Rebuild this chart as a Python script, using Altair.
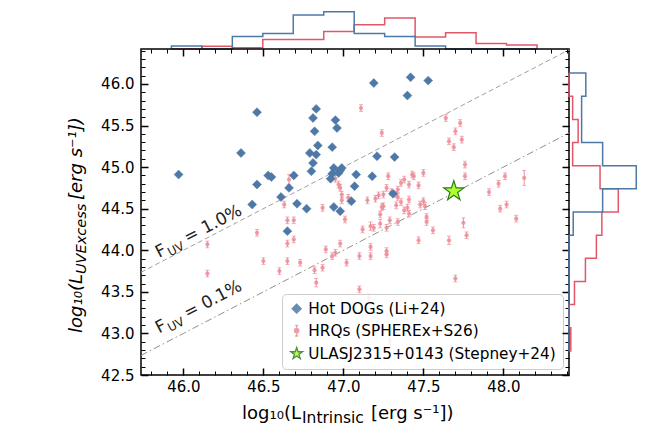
import altair as alt
import numpy as np
import pandas as pd

# ---------------- data ----------------
hd_x = [45.97, 46.46, 46.36, 46.53, 46.55, 46.46, 46.43, 46.61, 46.69, 46.66,
        46.71, 46.65, 46.77, 46.79, 46.83, 46.81, 46.82, 46.84, 46.83, 46.81,
        46.93, 46.95, 46.96, 46.94, 46.99, 46.93, 46.98, 46.94, 46.98, 47.08,
        47.07, 47.05, 47.19, 47.42, 47.53, 47.40, 47.21, 47.32, 47.18, 47.31,
        46.80, 46.97, 46.92]
hd_y = [44.91, 45.66, 45.17, 44.90, 44.88, 44.79, 44.55, 44.64, 44.90, 44.75,
        44.56, 44.23, 44.50, 45.17, 45.70, 45.59, 45.43, 45.26, 45.15, 45.05,
        45.24, 45.565, 45.47, 44.99, 44.99, 44.92, 44.96, 44.52, 44.47, 44.91,
        44.77, 44.59, 46.01, 46.08, 46.04, 45.86, 45.13, 45.12, 44.89, 44.68,
        44.95, 44.93, 44.86]

hrq_x = [46.15, 46.15, 46.46, 46.50, 46.60, 46.63, 46.65, 46.69, 46.65, 46.69,
         46.65, 46.66, 46.73, 46.82, 46.87, 46.83, 46.87, 46.89, 46.93, 46.95,
         46.95, 46.97, 46.98, 46.99, 46.99, 46.98, 47.01, 47.02, 47.03, 47.04,
         47.10, 47.10, 47.11, 47.12, 47.16, 47.17, 47.17, 47.17, 47.19, 47.20,
         47.23, 47.23, 47.24, 47.24, 47.25, 47.25, 47.27, 47.27, 47.27, 47.27,
         47.28, 47.29, 47.29, 47.33, 47.33, 47.34, 47.34, 47.34, 47.36, 47.38,
         47.40, 47.41, 47.41, 47.41, 47.43, 47.44, 47.47, 47.50, 47.50, 47.51,
         47.52, 47.56, 47.64, 47.66, 47.66, 47.69, 47.70, 47.70, 47.73, 47.74,
         47.75, 47.76, 47.76, 47.77, 47.91, 47.97, 47.98, 48.01, 48.02, 48.08,
         48.13, 47.30, 47.36, 47.22, 47.47, 47.48, 47.38, 47.15, 47.52]
hrq_y = [44.07, 43.72, 44.21, 43.87, 43.75, 44.55, 44.36, 44.36, 44.08, 44.13,
         43.87, 44.85, 43.85, 43.76, 43.79, 43.61, 44.51, 44.01, 43.93, 43.97,
         44.86, 44.79, 44.75, 44.67, 44.60, 44.08, 44.37, 43.85, 44.63, 44.60,
         43.93, 43.53, 45.71, 44.25, 43.43, 44.29, 44.04, 43.93, 44.27, 44.62,
         44.43, 44.32, 45.41, 44.52, 44.67, 44.53, 44.75, 44.27, 43.99, 43.95,
         44.89, 44.36, 42.91, 44.67, 44.54, 44.73, 44.64, 44.34, 44.81, 44.85,
         44.51, 44.79, 44.61, 44.44, 44.91, 44.89, 44.12, 44.93, 44.59, 44.53,
         44.34, 44.24, 45.59, 45.31, 44.12, 45.24, 45.43, 43.66, 45.53, 45.33,
         44.33, 45.03, 44.89, 44.18, 44.70, 44.80, 44.50, 44.89, 44.55, 44.38,
         44.87, 44.70, 44.58, 44.66, 44.78, 44.55, 44.48, 44.60, 44.40]
hrq_err = [0.04] * len(hrq_x)
hrq_err[11] = 0.06
hrq_err[15] = 0.05
hrq_err[35] = 0.05
hrq_err[41] = 0.05
hrq_err[74] = 0.05
hrq_err[80] = 0.06
hrq_err[90] = 0.09

star_x = [47.69]
star_y = [44.71]

series_names = ["Hot DOGs (Li+24)", "HRQs (SPHEREx+S26)", "ULASJ2315+0143 (Stepney+24)"]

fuv_levels = [0.01, 0.001]
fuv_labels = ["1.0%", "0.1%"]
ann_x = [45.848, 45.848]
ann_y = [43.908, 43.0]

x_domain = [45.735, 48.41]
y_domain = [42.5, 46.42]
x_major = [46.0, 46.5, 47.0, 47.5, 48.0]
y_major = [42.5, 43.0, 43.5, 44.0, 44.5, 45.0, 45.5, 46.0]
xbin_range = [45.925, 48.21]
ybin_range = [42.79, 46.13]
n_bins = 12

# ---------------- styles ----------------
BLUE = "#4e79a7"
RED = "#e15768"
PINK = "#ec8d99"
LIME = "#adff2f"
DKGREEN = "#2f7a1f"
FONT = "DejaVu Sans"
W, H = 428, 326
TOPH, RIGHTW = 48, 80

xs = alt.Scale(domain=x_domain, nice=False, zero=False)
ys = alt.Scale(domain=y_domain, nice=False, zero=False)

STAR = ("M0,-1L0.2245,-0.309L0.951,-0.309L0.363,0.118L0.588,0.809L0,0.382"
        "L-0.588,0.809L-0.363,0.118L-0.951,-0.309L-0.2245,-0.309Z")
HRQ_SYM = ("M0,-1L0,1M-0.28,-1L0.28,-1M-0.28,1L0.28,1"
           "M0.4,0A0.4,0.4,0,1,1,-0.4,0A0.4,0.4,0,1,1,0.4,0Z")

fill_scale = alt.Scale(domain=series_names, range=[BLUE, PINK, LIME])
stroke_scale = alt.Scale(domain=series_names, range=[BLUE, PINK, DKGREEN])
shape_scale = alt.Scale(domain=series_names, range=["diamond", HRQ_SYM, STAR])
size_scale = alt.Scale(domain=series_names, range=[80, 150, 170])

leg = alt.Legend(title=None, orient="bottom-right", offset=6, labelFontSize=15.3,
                 labelFont=FONT, labelColor="black", labelLimit=400,
                 symbolStrokeWidth=1.3, fillColor="rgba(255,255,255,0.85)",
                 strokeColor="#cccccc", cornerRadius=4, padding=7, rowPadding=5)

# ---------------- tables ----------------
hd = pd.DataFrame({"x": hd_x, "y": hd_y, "series": series_names[0]})
hrq = pd.DataFrame({"x": hrq_x, "y": hrq_y, "err": hrq_err, "series": series_names[1]})
hrq["lo"] = hrq["y"] - hrq["err"]
hrq["hi"] = hrq["y"] + hrq["err"]
star = pd.DataFrame({"x": star_x, "y": star_y, "series": series_names[2]})

lines = []
for f, lab in zip(fuv_levels, fuv_labels):
    for xv in x_domain:
        lines.append({"x": xv, "y": xv + np.log10(f), "lab": lab})
lines = pd.DataFrame(lines)
ann = pd.DataFrame({"x": ann_x, "y": ann_y, "lab": ["= " + l for l in fuv_labels]})


def outline(vals, edges, name):
    counts, _ = np.histogram(vals, bins=edges)
    dens = counts / (len(vals) * np.diff(edges))
    rows = [(edges[0], 0.0)]
    for i, d in enumerate(dens):
        rows.append((edges[i], d))
        rows.append((edges[i + 1], d))
    rows.append((edges[-1], 0.0))
    return pd.DataFrame({"v": [r[0] for r in rows], "d": [r[1] for r in rows],
                         "order": range(len(rows)), "series": name})


xedges = np.linspace(xbin_range[0], xbin_range[1], n_bins + 1)
yedges = np.linspace(ybin_range[0], ybin_range[1], n_bins + 1)
topdf = pd.concat([outline(hrq_x, xedges, "HRQ"), outline(hd_x, xedges, "HD")])
rightdf = pd.concat([outline(hrq_y, yedges, "HRQ"), outline(hd_y, yedges, "HD")])
hcolor = alt.Color("series:N", scale=alt.Scale(domain=["HD", "HRQ"], range=[BLUE, RED]), legend=None)

# ---------------- main panel ----------------
dummy = pd.DataFrame({"x": [47.0], "y": [44.0]})
base_ax = dict(domain=False, grid=False, title=None, tickColor="black",
               labelColor="black", labelFont=FONT, labelFontSize=15)


def axis_layer(xaxis, yaxis):
    return alt.Chart(dummy).mark_point(opacity=0).encode(
        x=alt.X("x:Q", scale=xs, axis=xaxis), y=alt.Y("y:Q", scale=ys, axis=yaxis))


x_minor = [round(v, 1) for v in np.arange(45.8, 48.41, 0.1)]
y_minor = [round(v, 1) for v in np.arange(42.6, 46.41, 0.1)]

ax_layers = [
    axis_layer(alt.Axis(orient="bottom", values=x_major, format=".1f", tickSize=7, offset=-7,
                        tickWidth=1.5, labelPadding=4, zindex=2, **base_ax),
               alt.Axis(orient="left", values=y_major, format=".1f", tickSize=7, offset=-7,
                        tickWidth=1.5, labelPadding=7, zindex=2, **base_ax)),
    axis_layer(alt.Axis(orient="bottom", values=x_minor, labels=False, tickSize=4, offset=-4,
                        tickWidth=1, zindex=2, **base_ax),
               alt.Axis(orient="left", values=y_minor, labels=False, tickSize=4, offset=-4,
                        tickWidth=1, zindex=2, **base_ax)),
    axis_layer(alt.Axis(orient="top", values=x_major, labels=False, tickSize=7, offset=-7,
                        tickWidth=1.5, zindex=2, **base_ax),
               alt.Axis(orient="right", values=y_major, labels=False, tickSize=7, offset=-7,
                        tickWidth=1.5, zindex=2, **base_ax)),
    axis_layer(alt.Axis(orient="top", values=x_minor, labels=False, tickSize=4, offset=-4,
                        tickWidth=1, zindex=2, **base_ax),
               alt.Axis(orient="right", values=y_minor, labels=False, tickSize=4, offset=-4,
                        tickWidth=1, zindex=2, **base_ax)),
]

upper = alt.Chart(lines[lines.lab == fuv_labels[0]]).mark_line(
    color="#a0a0a0", strokeWidth=1, strokeDash=[5, 3], clip=True).encode(
    x=alt.X("x:Q", scale=xs, axis=None), y=alt.Y("y:Q", scale=ys, axis=None))
lower = alt.Chart(lines[lines.lab == fuv_labels[1]]).mark_line(
    color="#909090", strokeWidth=1, strokeDash=[7, 3, 1.5, 3], clip=True).encode(
    x=alt.X("x:Q", scale=xs, axis=None), y=alt.Y("y:Q", scale=ys, axis=None))

ANG = 332.5
ann_enc = dict(x=alt.X("x:Q", scale=xs, axis=None), y=alt.Y("y:Q", scale=ys, axis=None))
annF = alt.Chart(ann).mark_text(text="F", angle=ANG, align="left", baseline="alphabetic",
                                fontSize=17, font=FONT, color="#222").encode(**ann_enc)
annUV = alt.Chart(ann).mark_text(text="UV", angle=ANG, align="left", baseline="alphabetic",
                                 fontSize=12, font=FONT, color="#222", dx=10.5, dy=4).encode(**ann_enc)
annR = alt.Chart(ann).mark_text(angle=ANG, align="left", baseline="alphabetic",
                                fontSize=17, font=FONT, color="#222", dx=32).encode(
    text="lab:N", **ann_enc)

err_rule = alt.Chart(hrq).mark_rule(color=PINK, strokeWidth=1).encode(
    x=alt.X("x:Q", scale=xs, axis=None), y=alt.Y("lo:Q", scale=ys, axis=None), y2="hi:Q")
cap_lo = alt.Chart(hrq).mark_tick(color=PINK, orient="horizontal", size=4, thickness=1).encode(
    x=alt.X("x:Q", scale=xs, axis=None), y=alt.Y("lo:Q", scale=ys, axis=None))
cap_hi = alt.Chart(hrq).mark_tick(color=PINK, orient="horizontal", size=4, thickness=1).encode(
    x=alt.X("x:Q", scale=xs, axis=None), y=alt.Y("hi:Q", scale=ys, axis=None))

hrq_pts = alt.Chart(hrq).mark_point(filled=True, strokeWidth=0, opacity=0.85).encode(
    x=alt.X("x:Q", scale=xs, axis=None), y=alt.Y("y:Q", scale=ys, axis=None),
    fill=alt.Fill("series:N", scale=fill_scale, legend=leg),
    stroke=alt.Stroke("series:N", scale=stroke_scale, legend=leg),
    shape=alt.value("circle"), size=alt.value(18))

hd_pts = alt.Chart(hd).mark_point(filled=True, strokeWidth=0.5, opacity=1).encode(
    x=alt.X("x:Q", scale=xs, axis=None), y=alt.Y("y:Q", scale=ys, axis=None),
    fill=alt.Fill("series:N", scale=fill_scale, legend=leg),
    stroke=alt.Stroke("series:N", scale=stroke_scale, legend=leg),
    shape=alt.Shape("series:N", scale=shape_scale, legend=leg),
    size=alt.Size("series:N", scale=size_scale, legend=leg))

star_pt = alt.Chart(star).mark_point(filled=True, strokeWidth=1.2, opacity=1).encode(
    x=alt.X("x:Q", scale=xs, axis=None), y=alt.Y("y:Q", scale=ys, axis=None),
    fill=alt.Fill("series:N", scale=fill_scale, legend=leg),
    stroke=alt.Stroke("series:N", scale=stroke_scale, legend=leg),
    shape=alt.Shape("series:N", scale=shape_scale, legend=leg),
    size=alt.value(440))

one = pd.DataFrame({"a": [0]})


def label(text, x, y, size, align, angle=0, dy=0, italic=False):
    kw = dict(text=text, fontSize=size, font=FONT, align=align, baseline="alphabetic",
              color="black", dy=dy)
    if angle:
        kw["angle"] = angle
    if italic:
        kw["fontStyle"] = "italic"
    return alt.Chart(one).mark_text(**kw).encode(x=alt.value(x), y=alt.value(y))


titles = [
    label("log₁₀(L", 160, 370, 18, "right"),
    label("Intrinsic", 161, 370, 15.5, "left", dy=4),
    label("[erg s⁻¹])", 230, 370, 18, "left"),
    label("log₁₀(L", -59, 225, 18, "right", angle=270, italic=True),
    label("UVExcess", -59, 225, 14.5, "left", angle=270, dy=4, italic=True),
    label("[erg s⁻¹])", -59, 151, 18, "left", angle=270, italic=True),
]

main = alt.layer(*ax_layers, upper, lower, annF, annUV, annR, err_rule, cap_lo, cap_hi,
                 hrq_pts, hd_pts, star_pt, *titles).resolve_axis(
    x="independent", y="independent").properties(
    width=W, height=H, view=alt.ViewBackground(stroke="black", strokeWidth=1.5))

# ---------------- histograms ----------------
top = alt.Chart(topdf).mark_line(strokeWidth=1.5).encode(
    x=alt.X("v:Q", scale=xs, axis=None),
    y=alt.Y("d:Q", scale=alt.Scale(domain=[0, 1.89], nice=False), axis=None),
    color=hcolor, order="order:Q").properties(width=W, height=TOPH)

right = alt.Chart(rightdf).mark_line(strokeWidth=1.5).encode(
    y=alt.Y("v:Q", scale=ys, axis=None),
    x=alt.X("d:Q", scale=alt.Scale(domain=[0, 1.59], nice=False), axis=None),
    color=hcolor, order="order:Q").properties(width=RIGHTW, height=H)

blank = alt.Chart(one).mark_point(opacity=0).encode(
    x=alt.X("a:Q", axis=None), y=alt.Y("a:Q", axis=None)).properties(width=RIGHTW, height=TOPH)

chart = alt.concat(top, blank, main, right, columns=2, spacing=0, bounds="flush").resolve_scale(
    fill="independent", stroke="independent", shape="independent", size="independent"
).properties(padding={"left": 67, "top": 0, "right": 0, "bottom": 0}
).configure(font=FONT).configure_view(stroke="transparent")

chart.save("out.html", embed_options={"renderer": "svg", "actions": False})
